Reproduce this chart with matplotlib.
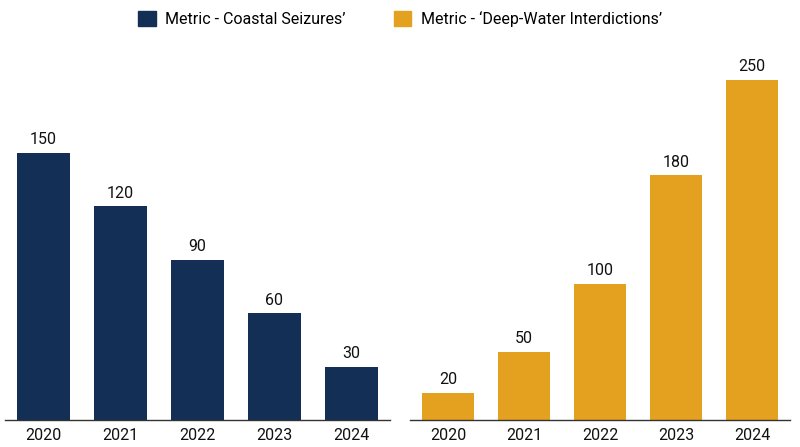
import matplotlib
matplotlib.use("Agg")
import matplotlib.pyplot as plt
from matplotlib.patches import Patch

years = ["2020", "2021", "2022", "2023", "2024"]
coastal = [150, 120, 90, 60, 30]
deep = [20, 50, 100, 180, 250]

plt.rcParams['font.family'] = ['Roboto', 'DejaVu Sans']
fig = plt.figure(figsize=(8, 4.47), dpi=100)
W, H = 800, 447
navy = "#132f55"
gold = "#e4a11f"

def panel(x0, x1, vals, color, ymax):
    ax = fig.add_axes([x0 / W, (H - 420) / H, (x1 - x0) / W, 370 / H])
    xs = range(len(vals))
    bars = ax.bar(xs, vals, width=0.68, color=color)
    for b, v in zip(bars, vals):
        ax.text(b.get_x() + b.get_width() / 2, v + ymax * 0.015, str(v),
                ha="center", va="bottom", fontsize=11.5, color="#111111")
    ax.set_xlim(-0.5, len(vals) - 0.5)
    ax.set_ylim(0, ymax)
    ax.set_xticks(list(xs))
    ax.set_xticklabels(years, fontsize=11.5, color="#111111")
    ax.tick_params(axis="x", length=0, pad=6)
    ax.set_yticks([])
    for s in ["top", "right", "left"]:
        ax.spines[s].set_visible(False)
    ax.spines["bottom"].set_color("#333333")
    ax.spines["bottom"].set_linewidth(1.0)
    return ax

panel(5, 390, coastal, navy, 370 / 1.78)
panel(410, 790, deep, gold, 370 / 1.36)

handles = [Patch(color=navy, label="Metric - Coastal Seizures\u2019"),
           Patch(color=gold, label="Metric - \u2018Deep-Water Interdictions\u2019")]
fig.legend(handles=handles, loc="center", bbox_to_anchor=(0.5, 1 - 19 / H), ncol=2,
           frameon=False, fontsize=11.5, handlelength=1.1, handleheight=1.1,
           columnspacing=3.0, handletextpad=0.6)
fig.savefig("out.png", dpi=100)
